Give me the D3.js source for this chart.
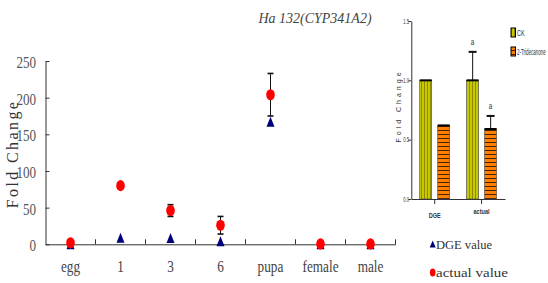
<!DOCTYPE html>
<html>
<head>
<meta charset="utf-8">
<script src="https://cdn.jsdelivr.net/npm/d3@7"></script>
<style>
  body { margin: 0; background: #fff; }
  svg { display: block; }
</style>
</head>
<body>
<svg width="548" height="283"></svg>
<script>
// main chart data
var stages = ["egg", "1", "3", "6", "pupa", "female", "male"];
var dgeValues = [0, 9, 8.5, 4, 167, 0, 0];
var actualValues = [2, 80, 46, 26, 204, 0.5, 0.5];
var actualErrors = [1, 3, 8, 12, 29, 0, 0];
var yTicks = [0, 50, 100, 150, 200, 250];

// inset data
var insetGroups = ["DGE", "actual"];
var treatments = ["CK", "2-Tridecanone"];
var ckValues = [1.0, 1.0];
var ckErrors = [0, 0.24];
var triValues = [0.62, 0.59];
var triErrors = [0, 0.11];
var ckSig = ["", "a"];
var triSig = ["", "a"];
var insetTicks = [0, 0.5, 1.0, 1.5];

var svg = d3.select("svg");
var serif = "'Liberation Serif', 'Times New Roman', serif";
var sans = "'Liberation Sans', Arial, sans-serif";

// patterns for the inset bars
var defs = svg.append("defs");
var pCk = defs.append("pattern").attr("id", "ckStripe")
    .attr("patternUnits", "userSpaceOnUse").attr("width", 3).attr("height", 3);
pCk.append("rect").attr("width", 3).attr("height", 3).attr("fill", "#c8c800");
pCk.append("rect").attr("x", 1).attr("width", 1).attr("height", 3).attr("fill", "#8c8c00");

var pTri = defs.append("pattern").attr("id", "triStripe")
    .attr("patternUnits", "userSpaceOnUse").attr("width", 4).attr("height", 4);
pTri.append("rect").attr("width", 4).attr("height", 4).attr("fill", "#ff8000");
pTri.append("rect").attr("y", 2).attr("width", 4).attr("height", 1).attr("fill", "#4a2200");

// ---------- main chart ----------
var x = d3.scaleBand().domain(stages).range([45.5, 395.5]);
var y = d3.scaleLinear().domain([0, 250]).range([244.3, 61]);

var yAxis = svg.append("g")
    .attr("transform", "translate(45.5,0)")
    .call(d3.axisLeft(y).tickValues(yTicks).tickSize(-4).tickSizeOuter(0).tickFormat(""));
yAxis.selectAll("path, line").attr("stroke", "#333");

var xAxis = svg.append("g")
    .attr("transform", "translate(0," + y(0) + ")")
    .call(d3.axisBottom(x).tickSize(0).tickSizeOuter(0).tickFormat(""));
xAxis.select("path").attr("stroke", "#333");
xAxis.selectAll(".bound")
    .data(stages)
    .enter()
    .append("line")
    .attr("class", "bound")
    .attr("x1", function(d) { return x(d) + x.step(); })
    .attr("x2", function(d) { return x(d) + x.step(); })
    .attr("y1", 0).attr("y2", -5)
    .attr("stroke", "#333");

svg.selectAll(".ylab")
    .data(yTicks)
    .enter()
    .append("text")
    .attr("class", "ylab")
    .attr("transform", function(d) { return "translate(36," + (y(d) + 7) + ") scale(0.77,1)"; })
    .attr("text-anchor", "end")
    .attr("font-family", serif)
    .attr("font-size", "17px")
    .attr("fill", "#555")
    .text(function(d) { return d; });

svg.selectAll(".xlab")
    .data(stages)
    .enter()
    .append("text")
    .attr("class", "xlab")
    .attr("transform", function(d) { return "translate(" + (x(d) + x.bandwidth() / 2) + ",272) scale(0.78,1)"; })
    .attr("text-anchor", "middle")
    .attr("font-family", serif)
    .attr("font-size", "17px")
    .attr("fill", "#444")
    .text(function(d) { return d; });

svg.append("text")
    .attr("transform", "translate(18,154) rotate(-90)")
    .attr("text-anchor", "middle")
    .attr("font-family", serif)
    .attr("font-size", "16px")
    .attr("letter-spacing", "2.4px")
    .attr("fill", "#333")
    .text("Fold Change");

svg.append("text")
    .attr("x", 315).attr("y", 23)
    .attr("text-anchor", "middle")
    .attr("font-family", serif)
    .attr("font-style", "italic")
    .attr("font-size", "14px")
    .attr("fill", "#444")
    .text("Ha 132(CYP341A2)");

function triangle(cx, cy, w, h) {
    return "M" + cx + "," + (cy - h / 2) + "L" + (cx + w / 2) + "," + (cy + h / 2) +
        "L" + (cx - w / 2) + "," + (cy + h / 2) + "Z";
}

var cx = function(d, i) { return x(stages[i]) + x.bandwidth() / 2; };

svg.selectAll(".dge")
    .data(dgeValues)
    .enter()
    .append("path")
    .attr("class", "dge")
    .attr("d", function(d, i) { return triangle(cx(d, i), y(d), 8, 10); })
    .attr("fill", "#00007a");

// error bars of the actual values
svg.selectAll(".err")
    .data(actualValues)
    .enter()
    .append("g")
    .attr("class", "err")
    .each(function(d, i) {
        var e = actualErrors[i];
        if (e <= 0) return;
        var g = d3.select(this), c = cx(d, i);
        g.append("line").attr("x1", c).attr("x2", c)
            .attr("y1", y(d - e)).attr("y2", y(d + e)).attr("stroke", "#111");
        [d - e, d + e].forEach(function(v) {
            g.append("line").attr("x1", c - 3).attr("x2", c + 3)
                .attr("y1", y(v)).attr("y2", y(v))
                .attr("stroke", "#111").attr("stroke-width", 1.6);
        });
    });

svg.selectAll(".act")
    .data(actualValues)
    .enter()
    .append("ellipse")
    .attr("class", "act")
    .attr("cx", cx)
    .attr("cy", function(d) { return y(d); })
    .attr("rx", 4.3).attr("ry", 5.6)
    .attr("fill", "#ff0000");

// legend
svg.append("path").attr("d", triangle(432.7, 244, 6, 7)).attr("fill", "#00007a");
svg.append("text")
    .attr("x", 436).attr("y", 248.5)
    .attr("font-family", serif).attr("font-size", "12.5px").attr("fill", "#333")
    .attr("textLength", 56).attr("lengthAdjust", "spacingAndGlyphs")
    .text("DGE value");
svg.append("ellipse").attr("cx", 432.7).attr("cy", 272.5).attr("rx", 2.8).attr("ry", 4).attr("fill", "#ff0000");
svg.append("text")
    .attr("x", 436).attr("y", 277)
    .attr("font-family", serif).attr("font-size", "12.5px").attr("fill", "#333")
    .attr("textLength", 72).attr("lengthAdjust", "spacingAndGlyphs")
    .text("actual value");

// ---------- inset bar chart ----------
var xI = d3.scaleBand().domain(insetGroups).range([411.3, 505]);
var sub = d3.scaleBand().domain(treatments).range([-15, 15]).paddingInner(1 / 3);
var yI = d3.scaleLinear().domain([0, 1.5]).range([199, 21]);

var yIAxis = svg.append("g")
    .attr("transform", "translate(411.3,0)")
    .call(d3.axisLeft(yI).tickValues(insetTicks).tickSize(3).tickSizeOuter(0).tickFormat(""));
yIAxis.selectAll("path, line").attr("stroke", "#333");

var xIAxis = svg.append("g")
    .attr("transform", "translate(0,199)")
    .call(d3.axisBottom(xI).tickSize(5).tickSizeOuter(0).tickFormat(""));
xIAxis.selectAll("path, line").attr("stroke", "#333");

svg.selectAll(".yilab")
    .data(insetTicks)
    .enter()
    .append("text")
    .attr("class", "yilab")
    .attr("transform", function(d) { return "translate(409," + (yI(d) + 2.5) + ") scale(0.6,1)"; })
    .attr("text-anchor", "end")
    .attr("font-family", sans)
    .attr("font-size", "7px")
    .attr("fill", "#333")
    .text(function(d) { return d.toFixed(1); });

var insetLabelY = [218, 214];
svg.selectAll(".xilab")
    .data(insetGroups)
    .enter()
    .append("text")
    .attr("class", "xilab")
    .attr("transform", function(d, i) { return "translate(" + (xI(d) + xI.bandwidth() / 2) + "," + insetLabelY[i] + ") scale(0.8,1)"; })
    .attr("text-anchor", "middle")
    .attr("font-family", sans)
    .attr("font-size", "7px")
    .attr("font-weight", "bold")
    .attr("fill", "#333")
    .text(function(d) { return d; });

svg.append("text")
    .attr("transform", "translate(401,106) rotate(-90)")
    .attr("text-anchor", "middle")
    .attr("font-family", sans)
    .attr("font-size", "7px")
    .attr("letter-spacing", "3px")
    .attr("fill", "#333")
    .text("Fold Change");

var series = [
    { name: treatments[0], values: ckValues, errors: ckErrors, sig: ckSig, fill: "url(#ckStripe)" },
    { name: treatments[1], values: triValues, errors: triErrors, sig: triSig, fill: "url(#triStripe)" }
];

series.forEach(function(s) {
    insetGroups.forEach(function(gname, i) {
        var v = s.values[i], e = s.errors[i];
        var left = xI(gname) + xI.bandwidth() / 2 + sub(s.name);
        var mid = left + sub.bandwidth() / 2;
        if (e > 0) {
            svg.append("line").attr("x1", mid).attr("x2", mid)
                .attr("y1", yI(v)).attr("y2", yI(v + e)).attr("stroke", "#333").attr("stroke-width", 1.2);
            svg.append("line").attr("x1", mid - 4).attr("x2", mid + 4)
                .attr("y1", yI(v + e)).attr("y2", yI(v + e)).attr("stroke", "#111").attr("stroke-width", 2);
        }
        svg.append("rect")
            .attr("x", left).attr("y", yI(v))
            .attr("width", sub.bandwidth()).attr("height", yI(0) - yI(v))
            .attr("fill", s.fill)
            .attr("stroke", "#444").attr("stroke-width", 0.6);
        svg.append("line").attr("x1", left).attr("x2", left + sub.bandwidth())
            .attr("y1", yI(v)).attr("y2", yI(v)).attr("stroke", "#000").attr("stroke-width", 2);
        if (s.sig[i]) {
            svg.append("text")
                .attr("transform", "translate(" + mid + "," + (yI(v + e) - 7) + ") scale(0.7,1)")
                .attr("text-anchor", "middle")
                .attr("font-family", sans).attr("font-size", "9px").attr("fill", "#333")
                .text(s.sig[i]);
        }
    });
});

// inset legend (squeezed so the long name fits before the right edge)
var legY = [28, 47];
var legScale = [0.62, 0.5];
series.forEach(function(s, i) {
    svg.append("rect")
        .attr("x", 511).attr("y", legY[i]).attr("width", 4.5).attr("height", 9)
        .attr("fill", s.fill).attr("stroke", "#000").attr("stroke-width", 1);
    svg.append("text")
        .attr("transform", "translate(517," + (legY[i] + 8) + ") scale(" + legScale[i] + ",1)")
        .attr("font-family", sans).attr("font-size", "9px").attr("fill", "#333")
        .text(s.name);
});
</script>
</body>
</html>
